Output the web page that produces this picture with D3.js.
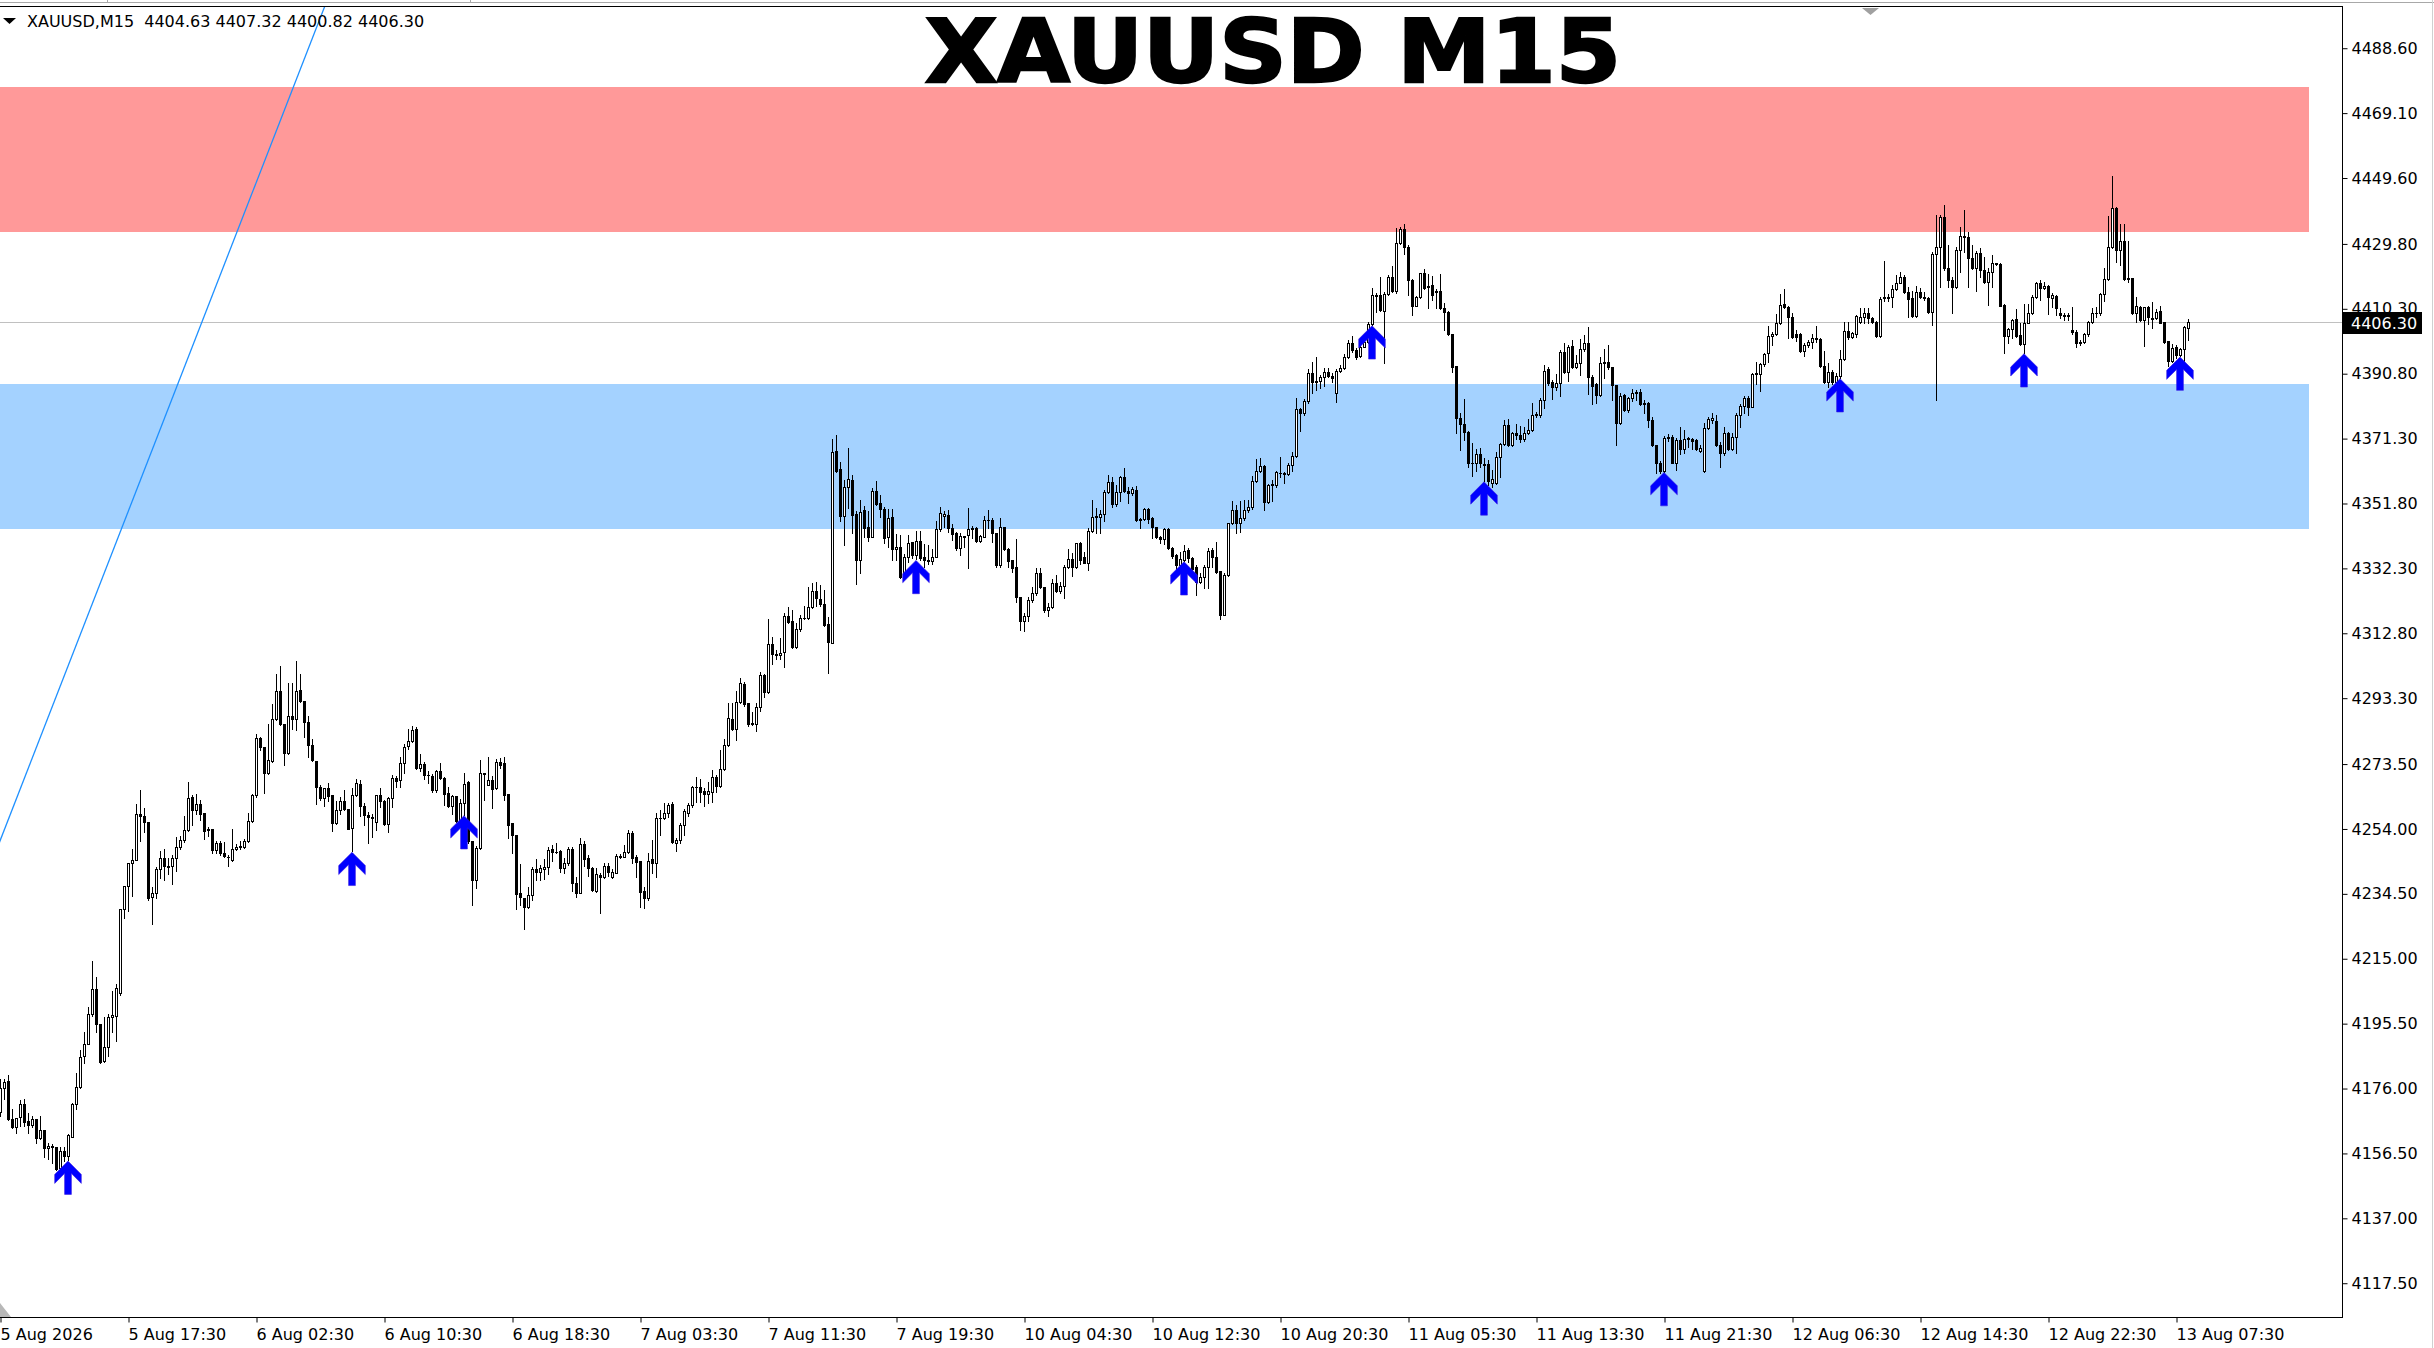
<!DOCTYPE html>
<html><head><meta charset="utf-8">
<script src="https://cdn.jsdelivr.net/npm/d3@7"></script>
<style>
html,body{margin:0;padding:0;background:#fff;overflow:hidden}
svg{display:block}
text{font-family:"DejaVu Sans",sans-serif}
</style></head><body>
<svg id="c" width="2434" height="1348"></svg>
<script>
const opens=[
4169.1,4176.1,4178.3,4166.8,4164.5,4167.3,4171.4,4166.1,4165.0,4166.8,
4161.0,4163.5,4158.0,4158.7,4158.3,4152.0,4157.2,4155.7,4161.5,4171.4,
4176.4,4185.7,4189.4,4198.3,4205.9,4195.4,4184.3,4188.5,4197.5,4197.8,
4204.8,4229.9,4237.0,4243.9,4244.6,4258.5,4257.8,4256.2,4233.6,4234.8,
4242.0,4245.2,4242.8,4242.8,4245.2,4248.6,4250.6,4253.6,4263.6,4259.6,
4261.5,4258.8,4253.9,4253.9,4247.6,4249.9,4246.9,4245.7,4244.6,4248.0,
4248.6,4248.6,4250.4,4256.5,4264.1,4281.3,4278.5,4270.9,4274.3,4286.9,
4295.4,4285.5,4276.7,4288.0,4286.9,4295.7,4292.5,4286.2,4279.1,4274.5,
4266.5,4263.4,4266.4,4264.1,4255.7,4259.6,4262.5,4260.1,4254.3,4264.3,
4267.6,4260.9,4258.3,4257.7,4256.2,4264.1,4262.5,4255.5,4263.3,4269.4,
4268.6,4273.8,4278.8,4280.4,4284.1,4272.2,4273.6,4270.1,4269.9,4265.7,
4271.5,4269.4,4264.8,4260.9,4263.9,4256.4,4261.8,4268.0,4250.4,4238.8,
4248.3,4270.4,4267.3,4268.6,4266.2,4274.1,4273.7,4264.5,4255.7,4252.2,
4234.7,4233.4,4230.5,4234.2,4241.9,4241.2,4241.9,4242.5,4247.9,4247.2,
4247.4,4242.2,4243.9,4247.9,4237.9,4234.9,4249.5,4245.2,4242.4,4235.5,
4240.2,4239.5,4242.9,4239.7,4240.9,4246.0,4245.7,4247.0,4252.7,4245.7,
4244.5,4235.5,4233.2,4244.9,4243.9,4257.2,4257.2,4258.9,4261.5,4249.9,
4250.7,4255.2,4258.9,4261.2,4266.7,4266.5,4265.4,4264.5,4265.2,4269.5,
4267.0,4271.9,4279.3,4287.1,4284.0,4292.3,4297.6,4291.8,4285.8,4285.6,
4290.6,4300.3,4295.3,4309.6,4306.6,4306.4,4307.3,4318.0,4316.5,4308.6,
4314.0,4317.3,4317.3,4320.6,4325.5,4323.1,4321.6,4315.6,4309.8,4367.6,
4362.1,4348.1,4356.7,4358.9,4348.7,4334.8,4349.7,4344.7,4341.8,4355.7,
4351.9,4350.1,4341.6,4347.7,4338.0,4338.8,4329.6,4335.8,4340.1,4336.3,
4340.6,4335.6,4334.8,4334.6,4335.8,4344.1,4348.1,4348.4,4344.4,4342.9,
4338.3,4342.1,4342.4,4344.1,4344.4,4340.6,4341.8,4346.9,4346.9,4342.9,
4333.3,4344.6,4338.0,4334.8,4332.6,4323.6,4316.6,4318.0,4322.8,4324.8,
4331.0,4326.8,4319.8,4320.6,4327.8,4325.6,4327.0,4332.8,4335.0,4332.6,
4339.8,4335.6,4334.0,4343.6,4347.7,4347.7,4348.7,4355.4,4358.4,4351.7,
4355.4,4359.7,4355.7,4355.1,4355.9,4346.7,4347.1,4350.1,4347.4,4344.6,
4341.6,4341.0,4344.0,4338.3,4336.3,4333.3,4334.8,4337.8,4335.3,4332.8,
4328.3,4329.6,4332.8,4337.8,4335.6,4331.6,4318.3,4330.3,4345.8,4349.7,
4345.8,4347.4,4349.7,4350.7,4358.7,4361.7,4363.1,4352.1,4357.4,4357.4,
4360.9,4360.9,4360.7,4363.4,4366.1,4380.1,4378.9,4382.6,4391.1,4388.4,
4388.7,4389.7,4391.4,4390.1,4384.9,4391.7,4392.4,4395.7,4399.9,4397.9,
4396.1,4398.9,4400.4,4405.7,4414.5,4414.5,4409.5,4414.8,4419.8,4415.8,
4430.2,4434.2,4429.0,4419.0,4411.2,4413.8,4421.0,4417.2,4417.5,4415.5,
4415.8,4410.5,4409.2,4402.7,4393.1,4377.4,4375.7,4373.4,4363.9,4363.9,
4366.7,4363.6,4363.7,4358.1,4358.1,4365.7,4369.7,4375.4,4369.4,4372.9,
4372.4,4371.1,4372.9,4373.9,4378.3,4378.4,4382.9,4392.1,4388.4,4386.7,
4388.1,4397.2,4391.4,4399.1,4392.7,4394.1,4398.1,4400.1,4389.9,4387.7,
4384.4,4393.9,4394.4,4392.7,4387.4,4376.1,4384.4,4379.9,4383.4,4384.9,
4385.4,4381.7,4381.9,4376.9,4369.4,4364.1,4361.7,4371.4,4371.9,4364.1,
4370.9,4368.1,4371.1,4371.1,4370.9,4367.7,4361.7,4374.4,4376.9,4376.7,
4369.4,4366.9,4373.1,4368.1,4371.9,4378.4,4381.1,4383.4,4380.9,4390.7,
4390.7,4393.7,4396.9,4402.1,4402.7,4405.9,4411.7,4410.9,4407.7,4402.7,
4402.7,4397.7,4399.4,4400.4,4401.4,4401.1,4393.1,4388.4,4391.4,4388.4,
4390.1,4395.1,4403.7,4401.7,4402.7,4406.4,4407.7,4408.9,4407.4,4406.4,
4402.1,4413.4,4413.4,4413.9,4416.2,4418.2,4420.0,4415.2,4413.4,4408.1,
4415.2,4413.7,4413.4,4409.4,4426.8,4429.0,4437.8,4422.5,4419.0,4417.0,
4428.0,4432.2,4431.8,4425.5,4422.5,4427.2,4422.0,4418.5,4421.5,4424.0,
4423.8,4411.4,4402.1,4404.1,4407.1,4402.4,4399.7,4406.1,4408.9,4413.9,
4418.1,4416.7,4417.1,4413.4,4414.1,4409.1,4408.4,4408.1,4404.0,4403.4,
4399.9,4400.4,4402.7,4406.4,4408.9,4408.9,4414.7,4419.4,4428.8,4440.5,
4428.0,4430.8,4419.4,4419.7,4408.9,4410.9,4406.9,4410.7,4407.4,4407.4,
4409.7,4406.4,4400.7,4394.7,4398.7,4396.4,4398.1,4404.63];
const highs=[
4178.8,4178.8,4180.1,4169.8,4167.1,4172.6,4172.8,4168.6,4167.6,4166.8,
4167.8,4163.5,4159.5,4159.3,4158.3,4158.5,4158.5,4162.3,4171.6,4180.8,
4187.6,4193.1,4200.6,4214.3,4209.6,4195.4,4197.5,4198.3,4205.2,4207.3,
4229.9,4237.0,4243.9,4248.0,4261.5,4265.7,4260.4,4256.2,4236.7,4242.5,
4247.5,4248.0,4245.2,4246.2,4251.5,4252.0,4257.8,4268.1,4264.3,4264.4,
4262.7,4258.8,4254.6,4253.9,4250.4,4250.4,4250.1,4246.2,4254.1,4249.4,
4250.4,4250.9,4258.8,4264.6,4282.5,4281.5,4278.5,4285.5,4291.5,4300.6,
4303.0,4285.5,4297.8,4297.8,4304.4,4300.6,4292.5,4287.8,4280.9,4274.5,
4267.3,4266.4,4267.8,4264.1,4262.5,4263.6,4265.7,4260.1,4266.4,4269.0,
4268.8,4261.8,4259.0,4258.5,4264.3,4266.2,4262.7,4263.6,4270.1,4269.9,
4275.7,4279.6,4284.1,4284.8,4284.6,4276.5,4274.1,4271.5,4270.4,4271.8,
4273.9,4269.7,4266.5,4264.3,4263.9,4263.0,4270.9,4268.3,4250.4,4248.8,
4274.6,4270.9,4275.7,4269.9,4275.1,4275.4,4275.5,4264.5,4255.7,4252.2,
4243.5,4233.4,4236.7,4242.7,4244.9,4243.2,4244.9,4248.5,4249.2,4249.9,
4247.7,4245.2,4248.7,4248.7,4239.7,4251.2,4250.5,4246.2,4242.7,4242.2,
4240.7,4243.9,4243.9,4241.9,4246.4,4246.5,4249.2,4253.7,4253.5,4246.2,
4244.5,4236.7,4246.9,4250.7,4258.9,4259.7,4261.9,4261.7,4262.2,4251.2,
4255.7,4259.9,4261.9,4266.9,4269.7,4268.9,4266.2,4268.2,4271.7,4270.2,
4277.7,4281.0,4291.8,4291.8,4295.6,4299.3,4298.3,4291.8,4289.0,4291.8,
4301.3,4300.6,4317.0,4311.8,4307.8,4311.3,4318.8,4320.6,4319.8,4315.8,
4318.3,4321.0,4326.6,4327.8,4328.1,4327.3,4325.8,4317.6,4371.2,4372.4,
4364.4,4358.9,4368.4,4360.4,4349.4,4352.9,4351.1,4349.4,4356.4,4358.7,
4354.4,4350.7,4350.1,4350.1,4342.7,4342.4,4336.6,4342.4,4340.3,4343.4,
4343.4,4339.6,4339.3,4338.0,4346.4,4350.7,4349.4,4349.9,4345.7,4343.1,
4342.9,4342.1,4350.4,4344.9,4344.7,4342.4,4347.9,4349.7,4347.4,4342.9,
4347.4,4344.8,4338.3,4334.8,4341.0,4323.6,4318.8,4323.8,4326.6,4332.3,
4332.5,4326.8,4321.8,4329.0,4330.3,4328.3,4333.3,4338.0,4337.0,4340.0,
4340.3,4337.3,4344.3,4352.9,4350.4,4349.9,4355.9,4360.4,4359.9,4357.4,
4360.1,4362.4,4356.9,4356.7,4357.1,4347.4,4350.4,4350.4,4347.7,4344.8,
4342.0,4344.3,4344.3,4338.8,4336.6,4337.3,4339.3,4338.3,4335.8,4333.3,
4331.0,4333.3,4338.3,4338.3,4340.3,4331.6,4330.8,4346.0,4352.4,4351.4,
4352.4,4352.7,4352.9,4360.1,4365.1,4365.4,4363.4,4357.7,4358.9,4361.7,
4365.7,4361.4,4363.9,4367.4,4383.4,4380.4,4383.1,4392.1,4394.4,4395.7,
4390.4,4392.4,4392.4,4390.9,4392.1,4393.4,4396.7,4400.9,4402.1,4398.4,
4400.7,4402.4,4406.4,4416.5,4415.0,4419.8,4415.5,4420.5,4423.2,4434.5,
4434.8,4435.8,4429.5,4419.2,4414.2,4421.2,4422.2,4420.8,4420.2,4416.2,
4420.8,4412.0,4409.5,4402.7,4393.1,4378.9,4383.1,4373.7,4369.9,4368.1,
4368.4,4365.4,4364.9,4361.9,4367.4,4370.1,4376.9,4377.1,4373.4,4375.7,
4375.1,4374.9,4377.1,4382.1,4379.4,4383.4,4393.4,4392.9,4388.9,4390.7,
4397.9,4399.9,4399.4,4400.9,4396.4,4401.1,4402.4,4404.7,4390.4,4387.9,
4395.9,4398.1,4399.4,4392.9,4387.4,4384.9,4384.7,4383.9,4386.1,4385.9,
4386.1,4382.9,4382.4,4377.9,4369.4,4364.7,4372.1,4372.7,4372.4,4371.4,
4374.7,4373.9,4371.7,4371.4,4371.1,4369.4,4375.9,4377.7,4378.9,4378.4,
4370.4,4374.9,4373.4,4372.9,4378.9,4381.7,4384.1,4384.1,4391.1,4394.4,
4394.1,4396.9,4405.1,4403.4,4408.7,4414.8,4416.2,4411.1,4409.1,4403.9,
4402.9,4399.9,4400.9,4402.7,4405.1,4401.4,4397.7,4394.1,4391.9,4390.9,
4397.9,4406.4,4406.4,4403.4,4408.4,4410.4,4410.4,4410.4,4407.9,4406.7,
4413.7,4424.8,4414.8,4417.5,4420.5,4421.5,4420.5,4417.0,4415.8,4417.2,
4416.5,4415.5,4413.9,4427.5,4438.5,4438.5,4441.5,4429.5,4420.0,4429.0,
4435.0,4440.0,4433.5,4429.5,4427.8,4428.5,4425.8,4422.5,4426.5,4424.2,
4424.0,4411.7,4404.4,4407.1,4410.1,4406.1,4411.7,4411.7,4414.4,4418.4,
4418.9,4418.4,4417.4,4414.9,4414.4,4410.4,4408.9,4409.1,4410.7,4403.9,
4400.9,4403.1,4406.7,4410.4,4410.9,4415.1,4422.7,4438.2,4450.2,4440.8,
4435.8,4435.8,4430.8,4419.7,4413.9,4411.1,4410.9,4411.1,4412.4,4410.1,
4411.1,4406.4,4400.7,4399.7,4399.4,4398.4,4405.1,4407.32];
const lows=[
4167.6,4172.8,4166.6,4164.0,4162.7,4164.7,4164.7,4162.5,4164.3,4159.5,
4160.7,4155.5,4154.7,4153.5,4151.5,4151.7,4154.3,4154.5,4161.3,4169.8,
4176.1,4183.6,4189.4,4197.8,4193.1,4183.8,4184.1,4185.7,4193.1,4190.4,
4204.1,4227.3,4229.4,4233.8,4244.6,4250.4,4253.0,4232.8,4225.5,4233.3,
4239.2,4238.8,4240.4,4237.5,4241.3,4248.0,4250.1,4253.3,4255.1,4258.5,
4256.7,4250.9,4252.0,4246.7,4246.9,4246.2,4245.7,4243.0,4244.3,4247.6,
4248.0,4248.3,4250.1,4256.2,4263.6,4277.8,4264.8,4270.4,4274.1,4286.7,
4285.1,4273.3,4276.4,4284.1,4283.8,4292.2,4281.5,4275.7,4274.3,4261.5,
4262.7,4260.9,4262.5,4253.3,4255.5,4258.5,4259.6,4253.9,4247.3,4263.8,
4257.8,4255.1,4249.7,4251.5,4253.6,4260.6,4255.1,4253.0,4260.6,4266.7,
4266.7,4270.9,4278.1,4280.2,4272.0,4271.5,4269.0,4267.8,4265.1,4265.1,
4269.0,4261.3,4260.6,4258.5,4256.2,4256.2,4258.3,4249.7,4231.2,4236.4,
4248.0,4262.7,4267.3,4260.4,4265.9,4272.2,4262.7,4251.2,4246.9,4229.9,
4231.2,4223.9,4230.2,4232.7,4238.7,4238.7,4238.9,4240.5,4244.5,4246.7,
4241.2,4240.9,4243.2,4235.5,4233.5,4234.7,4242.9,4239.9,4235.5,4235.2,
4228.7,4239.3,4240.0,4239.2,4240.7,4245.2,4245.5,4246.7,4243.9,4239.7,
4230.7,4230.2,4232.7,4240.7,4239.7,4252.2,4256.9,4257.7,4249.9,4247.5,
4249.9,4252.2,4257.9,4260.7,4262.2,4262.2,4260.9,4261.7,4262.2,4265.2,
4266.5,4271.7,4278.8,4283.8,4280.6,4291.8,4290.8,4285.0,4285.3,4283.3,
4289.3,4293.8,4294.8,4303.6,4305.0,4305.0,4302.8,4315.8,4308.3,4308.3,
4313.6,4317.0,4317.0,4320.3,4321.0,4321.0,4315.0,4301.0,4309.8,4361.4,
4346.4,4339.3,4350.4,4342.9,4327.6,4331.0,4341.8,4340.6,4341.6,4351.4,
4347.7,4340.0,4338.6,4334.8,4334.8,4329.3,4329.3,4334.3,4335.3,4335.0,
4334.8,4332.8,4333.6,4333.6,4335.6,4343.4,4344.7,4343.1,4340.8,4337.8,
4336.3,4338.8,4332.3,4341.3,4340.3,4340.3,4341.6,4344.4,4340.3,4332.6,
4332.8,4337.8,4332.8,4331.3,4322.3,4313.8,4313.6,4316.6,4322.3,4324.3,
4326.3,4319.3,4318.0,4320.3,4325.3,4324.8,4323.3,4332.3,4330.0,4332.3,
4333.6,4333.8,4331.8,4343.3,4343.0,4343.0,4346.4,4355.1,4350.7,4351.1,
4352.4,4355.4,4351.9,4354.4,4346.4,4344.3,4346.7,4345.9,4341.3,4341.3,
4339.8,4339.6,4338.0,4335.3,4332.0,4332.8,4334.6,4334.3,4331.8,4324.3,
4327.8,4326.3,4326.3,4332.8,4331.0,4317.0,4318.3,4330.0,4345.6,4343.0,
4343.3,4346.7,4349.1,4350.1,4358.4,4361.4,4349.9,4351.9,4352.4,4356.9,
4359.9,4358.1,4360.4,4361.7,4365.7,4373.7,4378.4,4382.1,4384.9,4385.9,
4386.4,4387.1,4389.9,4388.4,4382.4,4391.4,4392.1,4395.4,4397.4,4395.1,
4395.7,4398.9,4400.1,4405.5,4409.2,4409.5,4394.1,4414.5,4415.5,4415.0,
4429.8,4426.8,4414.5,4408.4,4411.0,4413.5,4416.2,4410.5,4412.8,4410.5,
4410.2,4403.9,4402.4,4391.4,4372.9,4367.9,4370.9,4362.9,4360.1,4361.7,
4362.9,4358.6,4357.4,4356.9,4357.7,4359.9,4369.4,4369.1,4369.1,4371.1,
4370.4,4370.7,4372.7,4373.7,4377.7,4377.7,4380.4,4387.4,4383.1,4385.9,
4384.1,4391.1,4388.7,4392.4,4392.4,4390.4,4397.7,4384.7,4381.7,4382.1,
4384.1,4389.4,4392.1,4382.9,4369.4,4375.7,4379.7,4379.4,4382.7,4382.9,
4381.4,4378.9,4374.7,4369.1,4360.9,4361.1,4361.4,4370.7,4363.9,4361.9,
4366.7,4366.9,4368.9,4368.1,4367.9,4367.4,4361.4,4374.1,4376.1,4369.1,
4362.9,4366.4,4367.9,4367.9,4366.9,4374.7,4378.9,4378.4,4380.7,4387.7,
4385.7,4393.1,4394.4,4399.4,4402.4,4405.7,4410.4,4401.4,4401.4,4400.7,
4397.4,4396.1,4398.7,4398.4,4400.4,4392.9,4388.1,4386.7,4387.7,4387.9,
4389.6,4394.9,4401.1,4401.4,4401.9,4406.1,4406.1,4406.1,4406.1,4401.9,
4401.9,4412.7,4412.7,4410.9,4416.0,4418.0,4415.0,4407.7,4407.9,4407.9,
4413.4,4412.9,4409.1,4405.4,4382.9,4417.0,4422.0,4417.0,4408.9,4416.5,
4421.5,4427.5,4416.8,4422.2,4415.8,4420.0,4418.2,4411.4,4417.0,4423.5,
4411.1,4396.9,4400.1,4401.4,4401.9,4399.4,4397.1,4405.9,4408.7,4413.4,
4412.9,4416.4,4408.7,4410.9,4408.4,4407.4,4406.9,4406.9,4402.7,4398.7,
4399.4,4400.1,4402.1,4406.1,4407.7,4408.4,4412.7,4419.1,4428.5,4424.5,
4423.4,4419.1,4418.4,4408.7,4406.4,4406.7,4399.1,4405.7,4404.4,4407.1,
4405.9,4400.1,4393.1,4394.4,4395.4,4396.1,4394.4,4400.82];
const closes=[
4176.1,4177.9,4166.8,4164.5,4167.1,4171.4,4165.8,4165.0,4166.8,4161.0,
4163.5,4158.0,4158.7,4158.3,4151.7,4157.2,4155.7,4162.0,4171.4,4176.4,
4185.6,4189.4,4198.3,4205.9,4195.4,4184.1,4188.5,4197.5,4198.0,4206.2,
4229.9,4237.0,4243.9,4244.6,4258.5,4257.8,4256.2,4233.3,4234.8,4242.0,
4245.2,4242.8,4242.7,4245.2,4248.6,4250.6,4253.6,4263.4,4259.6,4261.5,
4258.5,4253.3,4253.6,4247.6,4249.9,4246.7,4245.9,4245.5,4248.0,4248.6,
4248.8,4250.4,4256.5,4264.1,4281.3,4278.5,4270.9,4274.8,4286.9,4295.4,
4285.5,4276.7,4288.0,4286.9,4295.4,4292.5,4286.2,4279.1,4274.6,4266.5,
4263.4,4266.2,4263.8,4255.7,4259.6,4262.5,4259.9,4254.1,4264.3,4267.8,
4260.9,4258.1,4257.5,4257.3,4264.1,4262.3,4255.4,4263.3,4269.4,4268.3,
4273.8,4278.5,4280.4,4283.6,4272.2,4273.6,4270.1,4270.3,4265.7,4271.5,
4269.4,4264.6,4260.9,4263.9,4256.4,4261.8,4267.5,4250.4,4238.8,4248.3,
4270.7,4270.7,4268.6,4265.9,4274.1,4273.3,4264.2,4255.2,4252.2,4234.5,
4233.5,4230.5,4234.2,4241.9,4241.2,4242.2,4242.5,4247.7,4247.2,4247.1,
4242.2,4243.9,4247.9,4237.9,4234.9,4249.5,4244.9,4242.2,4235.7,4240.5,
4239.7,4242.9,4241.2,4241.2,4246.0,4245.7,4247.0,4252.7,4245.2,4244.2,
4235.2,4233.2,4244.5,4243.9,4257.2,4257.4,4258.9,4261.2,4250.2,4250.7,
4255.2,4259.5,4261.2,4266.5,4266.5,4265.2,4264.5,4265.5,4269.5,4266.9,
4271.9,4279.3,4287.3,4284.0,4292.3,4297.8,4291.6,4285.6,4285.5,4290.6,
4300.3,4295.3,4309.6,4306.6,4306.4,4307.0,4318.0,4316.3,4308.6,4314.0,
4317.3,4317.5,4320.6,4325.5,4323.3,4321.5,4315.3,4310.3,4367.4,4361.7,
4348.1,4356.7,4359.1,4348.4,4334.8,4349.1,4344.4,4341.8,4355.7,4351.7,
4350.1,4341.3,4347.4,4338.0,4338.8,4329.6,4335.8,4340.0,4336.3,4340.6,
4335.3,4334.8,4334.6,4335.8,4344.1,4348.9,4348.7,4344.4,4342.7,4338.3,
4342.1,4341.8,4344.1,4344.4,4340.6,4342.1,4346.9,4346.7,4342.9,4333.3,
4344.7,4338.0,4334.6,4332.3,4323.6,4316.6,4318.0,4322.8,4324.8,4331.0,
4326.8,4319.8,4320.6,4327.8,4325.6,4327.0,4332.8,4335.0,4332.8,4339.8,
4334.8,4334.0,4343.6,4347.7,4347.9,4348.7,4355.4,4358.4,4351.7,4355.4,
4359.7,4355.7,4355.1,4356.1,4346.7,4347.1,4350.1,4347.1,4344.6,4341.6,
4341.0,4344.0,4338.3,4336.0,4333.3,4335.0,4337.6,4335.3,4332.0,4328.3,
4329.8,4332.8,4337.6,4335.6,4331.3,4318.3,4330.3,4345.8,4349.7,4345.8,
4347.4,4349.7,4350.7,4358.7,4361.7,4363.1,4352.1,4357.4,4357.7,4361.4,
4361.1,4360.7,4363.4,4366.1,4380.1,4378.9,4382.6,4390.9,4388.4,4388.7,
4389.7,4391.4,4390.1,4389.4,4391.7,4392.4,4395.7,4400.1,4397.9,4395.7,
4398.9,4400.4,4405.7,4414.3,4414.2,4409.8,4414.8,4419.8,4415.8,4430.2,
4434.2,4429.0,4419.0,4411.2,4413.8,4421.0,4416.5,4416.8,4414.5,4415.8,
4410.5,4409.2,4402.7,4392.9,4377.4,4375.7,4373.4,4363.9,4364.1,4366.7,
4363.9,4363.4,4358.7,4359.1,4365.7,4369.7,4375.4,4369.4,4372.9,4372.4,
4371.1,4372.9,4373.9,4378.4,4378.6,4382.9,4391.7,4387.9,4386.7,4388.1,
4397.2,4391.4,4398.7,4392.7,4394.1,4398.1,4400.1,4389.9,4387.1,4384.4,
4393.9,4394.4,4392.9,4387.4,4376.1,4384.1,4379.9,4383.4,4385.1,4385.4,
4381.7,4381.9,4376.9,4369.4,4364.1,4361.7,4371.4,4371.9,4364.1,4370.9,
4368.1,4371.1,4371.4,4370.7,4368.1,4368.4,4374.4,4377.1,4377.4,4369.4,
4366.9,4373.1,4368.1,4371.9,4378.4,4381.1,4383.4,4380.9,4390.7,4390.9,
4393.7,4396.7,4402.1,4402.7,4405.9,4411.4,4410.9,4407.7,4401.7,4401.7,
4397.7,4399.4,4400.4,4401.4,4401.1,4393.1,4388.4,4391.4,4388.4,4390.1,
4395.1,4403.7,4401.7,4402.9,4408.1,4407.9,4408.9,4407.4,4406.4,4402.1,
4413.1,4413.7,4413.9,4416.2,4418.2,4420.0,4415.2,4413.1,4408.1,4415.2,
4413.7,4413.4,4409.4,4426.8,4429.0,4437.8,4422.5,4419.0,4417.0,4428.0,
4432.2,4431.8,4425.5,4422.5,4427.2,4422.0,4418.5,4421.5,4424.0,4423.8,
4411.1,4402.1,4404.1,4406.9,4402.1,4399.7,4406.1,4408.9,4413.9,4418.1,
4416.7,4417.1,4413.9,4414.4,4410.4,4408.4,4408.1,4408.4,4403.4,4399.9,
4400.4,4402.7,4406.4,4408.9,4409.1,4414.7,4419.4,4428.8,4440.5,4428.0,
4430.8,4419.4,4419.7,4408.9,4411.1,4406.9,4410.7,4407.9,4407.2,4409.4,
4406.1,4400.4,4394.7,4398.4,4396.4,4398.1,4404.9,4406.30];

const timeTickBars=[0,32,64,96,128,160,192,224,256,288,320,352,384,416,448,480,512,544];
const timeTickLabels=["5 Aug 2026","5 Aug 17:30","6 Aug 02:30","6 Aug 10:30","6 Aug 18:30","7 Aug 03:30","7 Aug 11:30","7 Aug 19:30","10 Aug 04:30","10 Aug 12:30","10 Aug 20:30","11 Aug 05:30","11 Aug 13:30","11 Aug 21:30","12 Aug 06:30","12 Aug 14:30","12 Aug 22:30","13 Aug 07:30"];
const priceTicks=[4488.60,4469.10,4449.60,4429.80,4410.30,4390.80,4371.30,4351.80,4332.30,4312.80,4293.30,4273.50,4254.00,4234.50,4215.00,4195.50,4176.00,4156.50,4137.00,4117.50];
const signalBars=[17,88,116,229,296,343,371,416,460,506,545];
const resistanceZone=[4433.5,4476.9];
const supportZone=[4344.2,4387.7];
const zoneEndBar=577;
const trendPoints=[{bar:0,price:4250.8},{bar:80,price:4497.9}];
const lastPrice=4406.30;
const headerText="XAUUSD,M15  4404.63 4407.32 4400.82 4406.30";
const titleText="XAUUSD M15";

const W=2434,H=1348,plotR=2342,plotT=6,plotB=1317;
const x=d3.scaleLinear().domain([0,1]).range([0.5,4.5]);
const y=d3.scaleLinear().domain([4107.5,4501.5]).range([1316.5,5.3]);
const svg=d3.select("#c");
svg.append("rect").attr("width",W).attr("height",H).attr("fill","#fff");
svg.append("defs").append("clipPath").attr("id","plot").append("rect")
  .attr("x",0).attr("y",plotT+1).attr("width",plotR).attr("height",plotB-plotT-1);
const g=svg.append("g").attr("clip-path","url(#plot)");

// zones
function zone(z,col){
  const y1=Math.round(y(z[1])), y0=Math.round(y(z[0]));
  g.append("rect").attr("x",0).attr("y",y1).attr("width",Math.round(x(zoneEndBar))).attr("height",y0-y1).attr("fill",col);
}
zone(resistanceZone,"#FF9999");
zone(supportZone,"#A4D2FF");

// bid line
const yb=Math.round(y(lastPrice))+0.5;
g.append("line").attr("x1",0).attr("x2",plotR).attr("y1",yb).attr("y2",yb).attr("stroke","#C0C0C0").attr("stroke-width",1);

// trend line
const tSlope=(trendPoints[1].price-trendPoints[0].price)/(trendPoints[1].bar-trendPoints[0].bar);
const tb0=-20,tb1=140;
g.append("line").attr("x1",x(tb0)).attr("y1",y(trendPoints[0].price+tSlope*(tb0-trendPoints[0].bar)))
  .attr("x2",x(tb1)).attr("y2",y(trendPoints[0].price+tSlope*(tb1-trendPoints[0].bar)))
  .attr("stroke","#1E90FF").attr("stroke-width",1.3);

// candles
const cg=g.append("g").attr("shape-rendering","crispEdges");
const idx=d3.range(closes.length);
cg.selectAll("line.w").data(idx).join("line").attr("class","w")
  .attr("x1",i=>x(i)).attr("x2",i=>x(i))
  .attr("y1",i=>Math.round(y(highs[i]))).attr("y2",i=>Math.round(y(lows[i]))+1)
  .attr("stroke","#000").attr("stroke-width",1);
idx.forEach(i=>{
  const o=opens[i],c=closes[i];
  const yt=Math.round(y(Math.max(o,c))), yB=Math.round(y(Math.min(o,c)));
  const xc=x(i);
  if(c>=o){
    if(yB-yt<1){
      cg.append("line").attr("x1",xc-1.5).attr("x2",xc+1.5).attr("y1",yt+0.5).attr("y2",yt+0.5).attr("stroke","#000");
    } else {
      cg.append("rect").attr("x",xc-1).attr("y",yt+0.5).attr("width",2).attr("height",yB-yt)
        .attr("fill","#fff").attr("stroke","#000").attr("stroke-width",1);
    }
  } else {
    cg.append("rect").attr("x",xc-1.5).attr("y",yt).attr("width",3).attr("height",Math.max(1,yB-yt+1)).attr("fill","#000");
  }
});

// signal arrows
const arrowPath="M0,0 L13.3,13.3 L13.3,22.3 L3.4,12.4 L3.4,33.3 L-3.4,33.3 L-3.4,12.4 L-13.3,22.3 L-13.3,13.3 Z";
g.selectAll("path.arr").data(signalBars).join("path").attr("class","arr")
  .attr("d",arrowPath)
  .attr("transform",i=>`translate(${x(i)-0.5},${y(lows[i])+1})`)
  .attr("fill","#0000FF").attr("stroke","#3A1FE0").attr("stroke-width",0.6);

// frame
svg.append("line").attr("x1",0).attr("x2",W).attr("y1",2.5).attr("y2",2.5).attr("stroke","#A8A8A8");
svg.append("line").attr("x1",107.5).attr("x2",107.5).attr("y1",0).attr("y2",2).attr("stroke","#A8A8A8");
svg.append("line").attr("x1",470.5).attr("x2",470.5).attr("y1",0).attr("y2",2).attr("stroke","#A8A8A8");
svg.append("line").attr("x1",0).attr("x2",plotR+1).attr("y1",plotT+0.5).attr("y2",plotT+0.5).attr("stroke","#000");
svg.append("line").attr("x1",plotR+0.5).attr("x2",plotR+0.5).attr("y1",plotT).attr("y2",plotB+1).attr("stroke","#000");
svg.append("line").attr("x1",0).attr("x2",plotR+1).attr("y1",plotB+0.5).attr("y2",plotB+0.5).attr("stroke","#000");
svg.append("line").attr("x1",W-1.5).attr("x2",W-1.5).attr("y1",0).attr("y2",H).attr("stroke","#D0D0D0");
svg.append("path").attr("d","M1862,8 L1879,8 L1870.5,15 Z").attr("fill","#A0A0A0");
svg.append("path").attr("d","M0,1303 L11,1317 L0,1317 Z").attr("fill","#B8B8B8");

// price axis
const ya=svg.append("g").attr("transform",`translate(${plotR+0.5},0)`)
  .call(d3.axisRight(y).tickValues(priceTicks).tickFormat(d3.format(".2f")).tickSize(5).tickSizeOuter(0));
ya.select(".domain").remove();
ya.selectAll(".tick line").attr("stroke","#000");
ya.selectAll(".tick text").attr("x",9).attr("fill","#000").style("font-size","16px").style("font-family","DejaVu Sans");

// bid label
svg.append("rect").attr("x",plotR+1).attr("y",Math.round(y(lastPrice))-10).attr("width",79).attr("height",22).attr("fill","#000");
svg.append("text").attr("x",plotR+9).attr("y",y(lastPrice)+1).attr("dy","0.35em").attr("fill","#fff")
  .style("font-size","16px").text(d3.format(".2f")(lastPrice));

// time axis
const xa=svg.append("g").attr("transform",`translate(0,${plotB+0.5})`)
  .call(d3.axisBottom(x).tickValues(timeTickBars).tickFormat((d,i)=>timeTickLabels[i]).tickSize(5).tickSizeOuter(0));
xa.select(".domain").remove();
xa.selectAll(".tick line").attr("stroke","#000");
xa.selectAll(".tick text").attr("text-anchor","start").attr("x",-0.5).attr("y",22).attr("dy",0)
  .attr("fill","#000").style("font-size","16px").style("font-family","DejaVu Sans");

// header
svg.append("path").attr("d","M3,18 L16,18 L9.5,24 Z").attr("fill","#000");
svg.append("text").attr("x",27).attr("y",27).attr("fill","#000").style("font-size","16px")
  .style("white-space","pre").attr("xml:space","preserve").text(headerText);

// title
svg.append("text").attr("x",1273).attr("y",82).attr("text-anchor","middle")
  .attr("textLength",696).attr("lengthAdjust","spacingAndGlyphs")
  .style("font-size","88px").style("font-weight","bold").style("font-family","DejaVu Sans")
  .attr("fill","#000").attr("stroke","#000").attr("stroke-width",2.5).text(titleText);
</script>
</body></html>
